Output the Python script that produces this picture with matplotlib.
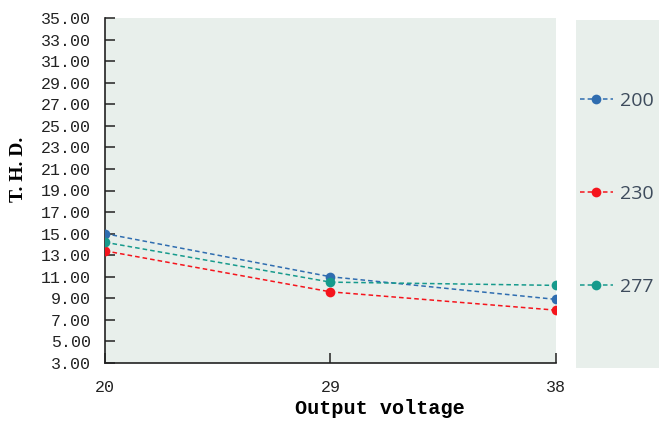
import matplotlib
matplotlib.use("Agg")
import matplotlib.pyplot as plt

x_vals = [20, 29, 38]
series_names = ["200", "230", "277"]
thd_200 = [15.0, 11.0, 8.9]
thd_230 = [13.4, 9.6, 7.9]
thd_277 = [14.2, 10.5, 10.2]
y_ticks = [3, 5, 7, 9, 11, 13, 15, 17, 19, 21, 23, 25, 27, 29, 31, 33, 35]

colors = ["#2f6db0", "#f5141c", "#169a8c"]
bg = "#e8efeb"

fig = plt.figure(figsize=(6.59, 4.21), dpi=100)
ax = fig.add_axes([105/659, 58/421, (556-105)/659, (363-18)/421])
ax.set_facecolor(bg)

for vals, c, name in zip([thd_200, thd_230, thd_277], colors, series_names):
    ax.plot(x_vals, vals, linestyle=(0, (3, 2)), color=c, lw=1.1,
            marker="o", markersize=7, markeredgewidth=0, label=name, zorder=3)

ax.set_xlim(20, 38)
ax.set_ylim(3, 35)
ax.set_xticks(x_vals)
ax.set_xticklabels([str(v) for v in x_vals])
ax.set_yticks(y_ticks)
ax.set_yticklabels([f"{v:.2f}" for v in y_ticks])
for s in ["top", "right"]:
    ax.spines[s].set_visible(False)
for s in ["left", "bottom"]:
    ax.spines[s].set_color("#222222")
    ax.spines[s].set_linewidth(1.2)
ax.tick_params(axis="both", direction="in", length=7, width=1.1, color="#222222",
               labelsize=12, labelcolor="#222222")
ax.tick_params(axis="x", pad=12)
ax.tick_params(axis="y", pad=10)
for lab in ax.get_xticklabels() + ax.get_yticklabels():
    lab.set_family("Liberation Mono")
ax.set_xlabel("Output voltage", family="Liberation Mono", fontweight="bold",
              fontsize=14.5)
ax.xaxis.set_label_coords(0.61, -0.105)
ax.set_ylabel("T. H. D.", family="Liberation Serif", fontweight="bold",
              fontsize=14)
ax.yaxis.set_label_coords(-0.172, 0.56)

lax = fig.add_axes([576/659, 53/421, 0.2, (368-20)/421])
lax.set_facecolor(bg)
lax.set_xticks([])
lax.set_yticks([])
for s in lax.spines.values():
    s.set_visible(False)
handles, labels = ax.get_legend_handles_labels()
leg = lax.legend(handles, labels, loc="center left", bbox_to_anchor=(0.03, 0.5),
                 frameon=False, fontsize=14, labelspacing=3.85, handlelength=1.7,
                 handletextpad=0.35, borderaxespad=0.0, borderpad=0.0)
for t in leg.get_texts():
    t.set_color("#3d4b5c")
    t.set_family("Open Sans")

fig.savefig("out.png", dpi=100)
